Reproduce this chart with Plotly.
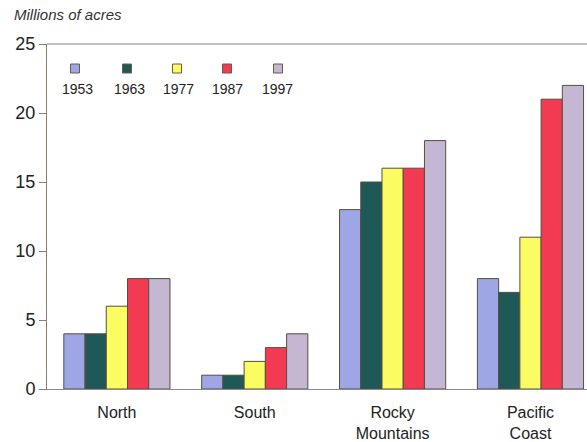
import plotly.graph_objects as go

categories = ["North", "South", "Rocky<br>Mountains", "Pacific<br>Coast"]
years = ["1953", "1963", "1977", "1987", "1997"]
values = {
    "1953": [4, 1, 13, 8],
    "1963": [4, 1, 15, 7],
    "1977": [6, 2, 16, 11],
    "1987": [8, 3, 16, 21],
    "1997": [8, 4, 18, 22],
}
colors = ["#9ea6e6", "#1e5957", "#fbfb62", "#f23a52", "#c3b7d3"]
yticks = [0, 5, 10, 15, 20, 25]

W, H = 587, 442
L, R, T, B = 47, 0, 44, 53
pw, ph = W - L - R, H - T - B

fig = go.Figure()
for yr, c in zip(years, colors):
    fig.add_trace(go.Bar(
        name=yr, x=categories, y=values[yr],
        marker=dict(color=c, line=dict(color="#5b4c3c", width=1)),
        showlegend=False,
    ))

def px(x):
    return (x - L) / pw

def py(y):
    return (H - B - y) / ph

shapes = []
annotations = []
leg_x = [75, 127, 177, 227, 278]
lab_x = [77, 129, 178, 227, 277]
for yr, c, lx, tx in zip(years, colors, leg_x, lab_x):
    shapes.append(dict(type="rect", xref="paper", yref="paper",
                       x0=px(lx - 4.5), x1=px(lx + 4.5), y0=py(73), y1=py(64),
                       fillcolor=c, line=dict(color="#6a5a4a", width=1)))
    annotations.append(dict(text=yr, xref="paper", yref="paper",
                            x=px(tx), y=py(89), showarrow=False,
                            xanchor="center", yanchor="middle",
                            font=dict(size=14, color="#222")))
# top frame line
shapes.append(dict(type="line", xref="paper", yref="paper", x0=0, x1=1, y0=1, y1=1,
                   line=dict(color="#8a8070", width=1)))
annotations.append(dict(text="<i>Millions of acres</i>", xref="paper", yref="paper",
                        x=px(12), y=py(15), xanchor="left", yanchor="middle",
                        showarrow=False, font=dict(size=15, color="#333")))

fig.update_layout(
    width=W, height=H,
    margin=dict(l=L, r=R, t=T, b=B, autoexpand=False),
    paper_bgcolor="white", plot_bgcolor="white",
    barmode="group", bargap=0.23, bargroupgap=0,
    font=dict(family="Liberation Sans, Arial, sans-serif", color="#222"),
    shapes=shapes, annotations=annotations,
    xaxis=dict(range=[-0.507, 3.41], showgrid=False, showline=True, automargin=False,
               linecolor="#8a8a90", linewidth=1,
               ticks="outside", ticklen=9, tickcolor="rgba(0,0,0,0)",
               tickfont=dict(size=16, color="#222")),
    yaxis=dict(range=[0, 25], tickvals=yticks, showgrid=False, zeroline=False,
               showline=True, linecolor="#8a8070", linewidth=1, automargin=False,
               ticks="outside", ticklen=7, tickcolor="#8a8070",
               tickfont=dict(size=18, color="#222")),
)
fig.write_html("out.html", config={"displayModeBar": False},
               post_script="document.body.style.margin='0';document.body.style.overflow='hidden';")
